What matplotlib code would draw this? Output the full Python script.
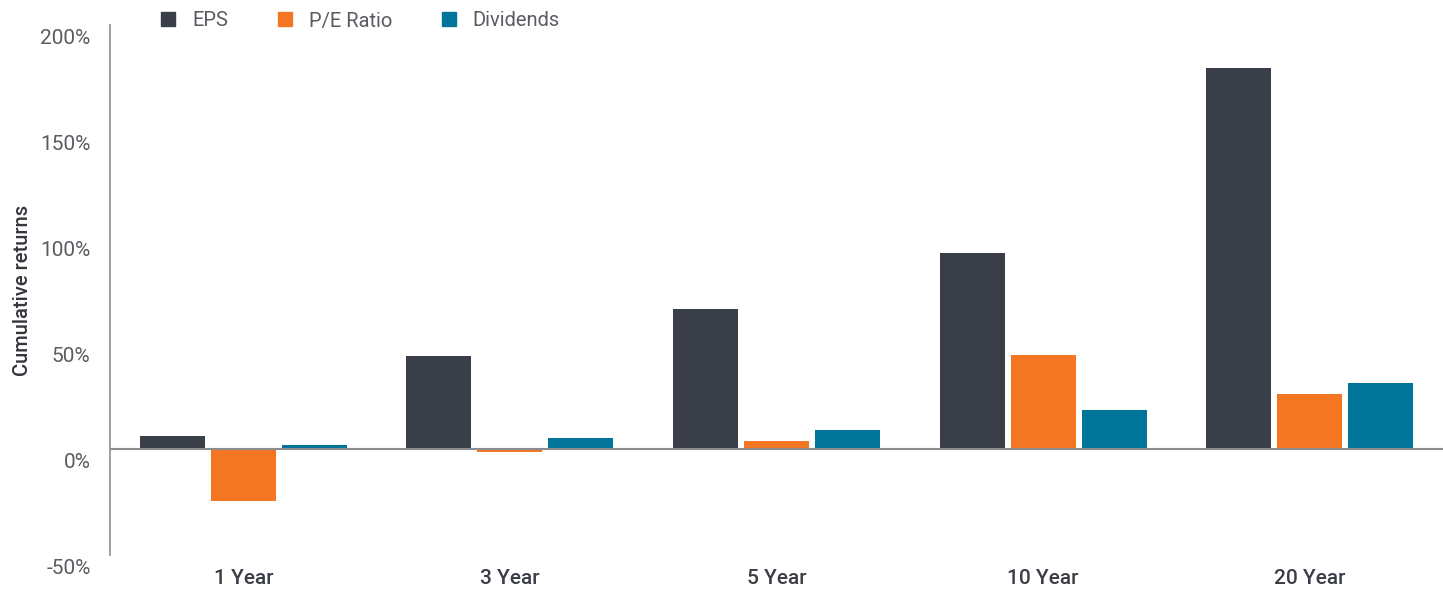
import matplotlib
matplotlib.use("Agg")
import matplotlib.pyplot as plt
import matplotlib.transforms as mtransforms
import numpy as np

plt.rcParams["font.family"] = ["Roboto", "DejaVu Sans"]

periods = ["1 Year", "3 Year", "5 Year", "10 Year", "20 Year"]
eps = [6, 44, 66, 92.5, 179.5]
pe_ratio = [-24.5, -1.3, 4, 44.5, 26]
dividends = [2, 5, 9, 18.5, 31]

series = [("EPS", eps, "#3a3e48"),
          ("P/E Ratio", pe_ratio, "#f47623"),
          ("Dividends", dividends, "#007499")]

fig = plt.figure(figsize=(14.43, 5.89), dpi=100)
ax = fig.add_axes([110 / 1443, 34 / 589, 1333 / 1443, 530 / 589])

x = np.arange(len(periods))
width = 65 / 266.6
step = 71 / 266.6
for i, (name, vals, color) in enumerate(series):
    ax.bar(x + (i - 1) * step, vals, width=width, color=color, label=name, zorder=2)

ax.axhline(0, color="#8a8c90", linewidth=1.5, zorder=3)
ax.set_xlim(-0.5, len(periods) - 0.5)
ax.set_ylim(-50, 200)
ax.set_yticks([-50, 0, 50, 100, 150, 200])
ax.set_yticklabels(["-50%", "0%", "50%", "100%", "150%", "200%"])
ax.set_xticks(x)
ax.set_xticklabels(periods, fontweight="medium", color="#3a3d45")

ax.tick_params(axis="both", length=0, labelsize=15)
ax.tick_params(axis="y", colors="#5a5c62", pad=14)
ax.tick_params(axis="x", pad=10)
# labels in the reference sit a little below their tick positions
shift = mtransforms.ScaledTranslation(0, -0.11, fig.dpi_scale_trans)
for lab in ax.get_yticklabels():
    lab.set_transform(lab.get_transform() + shift)

for s in ["top", "right", "bottom"]:
    ax.spines[s].set_visible(False)
ax.spines["left"].set_color("#8a8c90")
ax.spines["left"].set_linewidth(1.2)

ax.set_ylabel("Cumulative returns", fontsize=14.5, fontweight="medium", color="#33363d",
              labelpad=6)

handles = [plt.Line2D([], [], marker="s", linestyle="none", markersize=10, color=c)
           for _, _, c in series]
fig.legend(handles, [n for n, _, _ in series], loc="center left",
           bbox_to_anchor=(140 / 1443, 1 - 21 / 589), ncol=3, frameon=False,
           labelcolor="#5a5c62", handletextpad=0.7, columnspacing=2.3,
           handlelength=1.0, prop={"size": 14.5})

fig.savefig("out.png", dpi=100)
